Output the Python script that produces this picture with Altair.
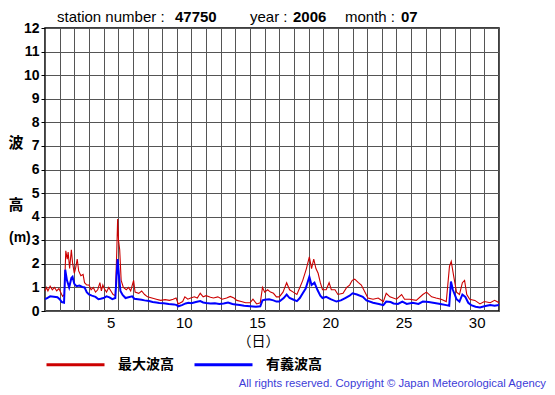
import altair as alt
import pandas as pd

# ---- data (day of month, 1 = 1st 00:00) ----
sig_day = [1.00, 1.15, 1.35, 1.60, 1.85, 2.00, 2.15, 2.30, 2.38, 2.50, 2.65, 2.80, 2.88, 3.00,
           3.15, 3.35, 3.55, 3.70, 3.85, 4.00, 4.20, 4.45, 4.65, 4.80, 5.00, 5.20, 5.40, 5.60,
           5.80, 5.90, 5.96, 6.05, 6.15, 6.30, 6.50, 6.70, 6.95, 7.10, 7.35, 7.60, 7.80, 8.10,
           8.35, 8.60, 8.80, 9.10, 9.45, 9.80, 10.00, 10.10, 10.35, 10.60, 10.80, 11.00, 11.30,
           11.60, 11.80, 12.00, 12.30, 12.60, 12.90, 13.20, 13.50, 13.80, 14.00, 14.30, 14.60,
           15.00, 15.40, 15.70, 15.85, 16.00, 16.30, 16.60, 16.80, 17.00, 17.30, 17.50, 17.70,
           17.90, 18.20, 18.40, 18.60, 18.80, 19.05, 19.20, 19.40, 19.60, 19.80, 19.95, 20.20,
           20.50, 20.90, 21.20, 21.50, 21.80, 22.00, 22.30, 22.70, 22.95, 23.40, 23.80, 24.10,
           24.30, 24.60, 24.80, 25.10, 25.40, 25.70, 26.10, 26.50, 26.80, 27.20, 27.50, 28.00,
           28.40, 28.60, 28.72, 28.85, 29.10, 29.30, 29.50, 29.70, 29.90, 30.10, 30.40, 30.70,
           31.00, 31.40, 31.70, 32.00]
sig_val = [0.50, 0.55, 0.62, 0.60, 0.58, 0.50, 0.38, 0.35, 1.75, 1.30, 1.00, 1.40, 1.45, 1.15,
           1.05, 1.08, 1.02, 1.00, 0.80, 0.70, 0.65, 0.60, 0.50, 0.52, 0.55, 0.62, 0.58, 0.50,
           0.55, 1.60, 2.20, 1.50, 0.85, 0.68, 0.55, 0.58, 0.62, 0.52, 0.50, 0.48, 0.45, 0.42,
           0.38, 0.36, 0.34, 0.33, 0.30, 0.28, 0.25, 0.20, 0.25, 0.32, 0.35, 0.33, 0.38,
           0.42, 0.36, 0.34, 0.32, 0.33, 0.30, 0.32, 0.36, 0.30, 0.28, 0.25, 0.22,
           0.20, 0.18, 0.20, 0.45, 0.48, 0.50, 0.45, 0.40, 0.40, 0.55, 0.70, 0.55,
           0.50, 0.42, 0.55, 0.75, 0.95, 1.45, 1.10, 1.20, 0.90, 0.65, 0.55, 0.60,
           0.50, 0.40, 0.45, 0.55, 0.65, 0.75, 0.70, 0.60, 0.45, 0.35, 0.30, 0.25,
           0.40, 0.38, 0.32, 0.30, 0.40, 0.30, 0.35, 0.30, 0.40, 0.38, 0.35, 0.30,
           0.25, 0.22, 1.25, 0.90, 0.50, 0.40, 0.70, 0.60, 0.35, 0.25, 0.18, 0.15,
           0.20, 0.25, 0.22, 0.25]

max_day = [1.00, 1.10, 1.20, 1.35, 1.50, 1.65, 1.80, 1.95, 2.10, 2.20, 2.32, 2.42, 2.52, 2.58,
           2.68, 2.80, 2.88, 3.00, 3.10, 3.20, 3.30, 3.45, 3.60, 3.70, 3.85, 4.00, 4.15, 4.30,
           4.45, 4.60, 4.75, 4.85, 4.95, 5.05, 5.20, 5.35, 5.50, 5.65, 5.80, 5.90, 5.96, 6.02,
           6.10, 6.20, 6.35, 6.55, 6.70, 6.85, 7.05, 7.15, 7.40, 7.60, 7.80, 8.00, 8.30, 8.60,
           8.90, 9.20, 9.50, 9.75, 9.95, 10.10, 10.40, 10.55, 10.75, 10.95, 11.20, 11.40, 11.60,
           11.80, 12.00, 12.30, 12.50, 12.80, 13.10, 13.40, 13.65, 13.90, 14.10, 14.40, 14.70,
           15.00, 15.20, 15.45, 15.70, 15.85, 16.00, 16.20, 16.40, 16.60, 16.80, 17.00, 17.25,
           17.50, 17.70, 17.95, 18.20, 18.40, 18.60, 18.85, 19.05, 19.20, 19.35, 19.50, 19.65,
           19.80, 19.95, 20.20, 20.40, 20.55, 20.80, 21.00, 21.35, 21.60, 21.80, 21.98, 22.15,
           22.40, 22.60, 22.85, 23.05, 23.40, 23.75, 24.10, 24.30, 24.55, 25.00, 25.35, 25.55,
           25.90, 26.35, 26.80, 27.05, 27.40, 27.70, 28.05, 28.40, 28.62, 28.74, 28.90, 29.10,
           29.30, 29.50, 29.65, 29.80, 30.00, 30.35, 30.70, 31.00, 31.40, 31.70, 32.00]
max_val = [0.85, 1.00, 0.85, 1.05, 0.90, 1.00, 0.85, 0.95, 0.75, 0.62, 0.70, 2.55, 2.20, 2.50,
           1.80, 2.60, 2.05, 1.60, 1.85, 2.20, 1.70, 1.50, 1.55, 1.20, 1.10, 1.10, 0.90, 1.00,
           0.80, 0.90, 1.20, 0.85, 1.10, 0.95, 0.80, 1.00, 0.85, 0.70, 0.65, 2.50, 3.90, 3.00,
           2.60, 1.30, 1.00, 0.90, 1.00, 0.85, 1.30, 0.80, 0.75, 0.85, 0.70, 0.60, 0.55, 0.50,
           0.45, 0.48, 0.45, 0.50, 0.55, 0.30, 0.40, 0.60, 0.50, 0.55, 0.60, 0.55, 0.75,
           0.60, 0.65, 0.58, 0.55, 0.60, 0.50, 0.55, 0.62, 0.55, 0.45, 0.40, 0.35,
           0.35, 0.50, 0.30, 0.35, 1.00, 0.80, 0.90, 0.80, 0.75, 0.60, 0.60, 0.80,
           1.20, 0.90, 0.80, 0.70, 1.00, 1.30, 1.80, 2.30, 1.80, 2.20, 1.80, 1.60,
           1.20, 0.90, 0.90, 1.20, 0.90, 0.90, 0.70, 0.75, 1.00, 1.10, 1.30, 1.35,
           1.20, 1.10, 0.80, 0.55, 0.50, 0.55, 0.40, 0.75, 0.60, 0.50, 0.70, 0.50,
           0.50, 0.45, 0.70, 0.80, 0.60, 0.55, 0.50, 0.40, 1.90, 2.10, 1.50, 0.80,
           0.70, 1.20, 1.30, 0.70, 0.50, 0.45, 0.30, 0.40, 0.35, 0.45, 0.35]

series_names = ["最大波高", "有義波高"]
series_colors = ["#cc0000", "#0000ff"]

y_ticks = list(range(0, 13))
x_grid = list(range(1, 33))

header_plain = ["station number : ", "year : ", "month : "]
header_bold = ["47750", "2006", "07"]
y_title_cjk = ["波", "高"]
y_title_unit = ["(m)"]
copyright_text = "All rights reserved. Copyright © Japan Meteorological Agency"

df_max = pd.DataFrame({"day": max_day, "h": max_val, "kind": series_names[0]})
df_sig = pd.DataFrame({"day": sig_day, "h": sig_val, "kind": series_names[1]})

PLOT_W, PLOT_H = 454, 283

x_enc = alt.X("day:Q",
              scale=alt.Scale(domain=[1, 32], nice=False, zero=False),
              axis=alt.Axis(values=x_grid, grid=True, ticks=False, domain=False,
                            labelExpr="datum.value % 5 == 0 ? datum.value : ''",
                            labelOffset=7, labelFontSize=15, labelFont="Liberation Sans",
                            labelColor="black", labelPadding=4, labelFlush=False,
                            labelOverlap=False,
                            gridColor="#555555", gridWidth=1, gridOpacity=1,
                            title="（日）", titleFont="Noto Sans CJK JP", titleFontSize=14,
                            titleFontWeight="normal", titleColor="black",
                            titleX=213, titleY=30, titleBaseline="middle", titleAlign="center"))
y_enc = alt.Y("h:Q",
              scale=alt.Scale(domain=[0, 12], nice=False),
              axis=alt.Axis(values=y_ticks, title=None, grid=True, tickSize=4,
                            tickColor="black", domain=False, labelFontWeight="bold",
                            labelFontSize=14, labelFont="Liberation Sans", labelColor="black",
                            labelPadding=2, gridColor="#555555", gridWidth=1, gridOpacity=1,
                            labelOverlap=False))
c_enc = alt.Color("kind:N",
                  scale=alt.Scale(domain=series_names, range=series_colors),
                  legend=alt.Legend(orient="none", legendX=0, legendY=306,
                                    direction="horizontal", title=None,
                                    symbolType="stroke", symbolSize=3364,
                                    symbolStrokeWidth=3, labelFont="Noto Sans CJK JP",
                                    labelFontSize=14, labelFontWeight="bold",
                                    labelOffset=12, columnPadding=14,
                                    labelColor="black"))

line_max = alt.Chart(df_max).mark_line(clip=True, strokeWidth=1.1).encode(
    x=x_enc, y=y_enc, color=c_enc)
line_sig = alt.Chart(df_sig).mark_line(clip=True, strokeWidth=2).encode(
    x=x_enc, y=y_enc, color=c_enc)

hp = pd.DataFrame({"t": header_plain, "px": [12, 205, 300], "py": [-11, -11, -11]})
hb = pd.DataFrame({"t": header_bold, "px": [130, 248, 356], "py": [-11, -11, -11]})
yt = pd.DataFrame({"t": y_title_cjk, "px": [-29, -29], "py": [115, 177]})
yu = pd.DataFrame({"t": y_title_unit, "px": [-36], "py": [210]})
cp = pd.DataFrame({"t": [copyright_text], "px": [501], "py": [356]})

def text_layer(d, **kw):
    return alt.Chart(d).mark_text(baseline="middle", **kw).encode(
        x=alt.X("px:Q", scale=None, axis=None),
        y=alt.Y("py:Q", scale=None, axis=None),
        text="t:N",
    )

t_plain = text_layer(hp, align="left", font="Liberation Sans", fontSize=15, color="black")
t_bold = text_layer(hb, align="left", font="Liberation Sans", fontSize=15,
                    fontWeight="bold", color="black")
t_ytitle = text_layer(yt, align="center", font="Noto Sans CJK JP", fontSize=15,
                      fontWeight="bold", color="black")
t_yunit = text_layer(yu, align="left", font="Liberation Sans", fontSize=14,
                     fontWeight="bold", color="black")
t_copy = text_layer(cp, align="right", font="Liberation Sans", fontSize=11.3, color="#3c3cd8")

chart = alt.layer(line_max, line_sig, t_plain, t_bold, t_ytitle, t_yunit, t_copy).properties(
    width=PLOT_W, height=PLOT_H,
    autosize=alt.AutoSizeParams(type="none"),
    padding={"left": 37, "top": 20, "right": 48, "bottom": 78},
    background="white",
).configure_view(stroke="black", strokeWidth=1.5)

chart.save("out.html", embed_options={"renderer": "svg", "actions": False})
